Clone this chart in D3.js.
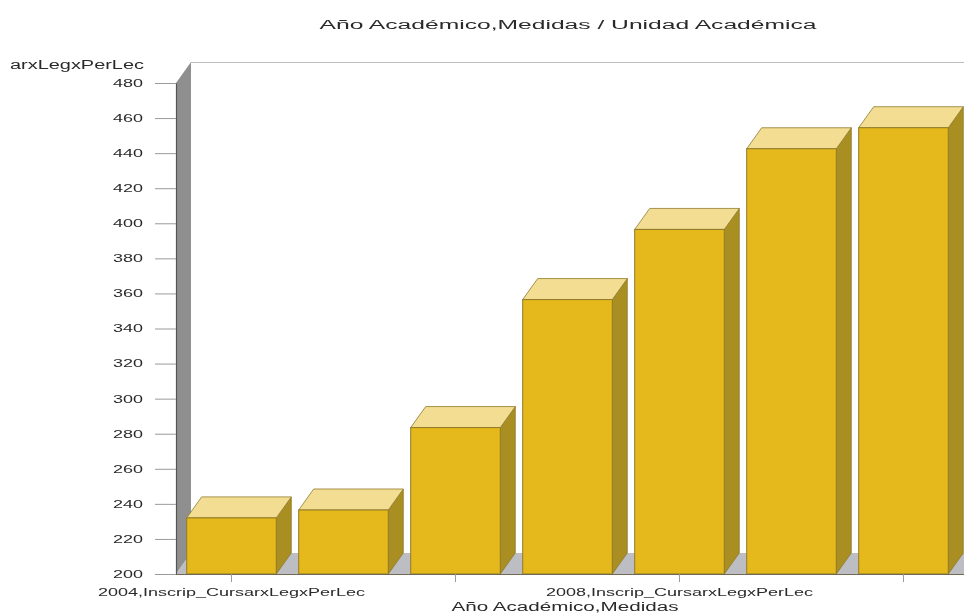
<!DOCTYPE html>
<html><head><meta charset="utf-8">
<script src="https://cdn.jsdelivr.net/npm/d3@7"></script>
<style>
html,body{margin:0;background:#fff;overflow:hidden}
svg{filter:blur(0.35px)}
text{font-family:"Liberation Sans",Arial,sans-serif;fill:#2a2a2a}
</style></head><body><svg id="c" width="964" height="613"></svg>
<script>
const categories=["2004,Inscrip_CursarxLegxPerLec","2005,Inscrip_CursarxLegxPerLec","2006,Inscrip_CursarxLegxPerLec","2007,Inscrip_CursarxLegxPerLec","2008,Inscrip_CursarxLegxPerLec","2009,Inscrip_CursarxLegxPerLec","2010,Inscrip_CursarxLegxPerLec"];
const values=[232,236.5,283.5,356.5,396.5,442.5,454.5];
const yTicks=[200,220,240,260,280,300,320,340,360,380,400,420,440,460,480];
const xTickCats=[categories[0],categories[2],categories[4],categories[6]];
const xLabelCats=[categories[0],categories[4]];
const chartTitle="Año Académico,Medidas / Unidad Académica";
const xTitle="Año Académico,Medidas";
const yTitle="arxLegxPerLec";

const W=964,dx=15,dy=21,pLeft=176,pRight=960,pBottom=574,pTop=83;
const svg=d3.select("#c");
const y=d3.scaleLinear().domain([200,480]).range([pBottom,pTop]);
const x=d3.scaleBand().domain(categories).range([pLeft-.5,pRight-.5]).paddingInner(.2).paddingOuter(.1);
const poly=p=>p.map(a=>a.join(",")).join(" ");

// walls
svg.append("polygon").attr("points",poly([[pLeft,pTop],[pLeft+dx,pTop-dy],[pLeft+dx,pBottom-dy],[pLeft,pBottom]])).attr("fill","#8f8f8f");
svg.append("polygon").attr("points",poly([[pLeft,pBottom],[pLeft+dx,pBottom-dy],[W,pBottom-dy],[W,pBottom]])).attr("fill","#bdbdc4");
svg.append("line").attr("x1",pLeft+dx).attr("x2",W).attr("y1",pTop-dy+.5).attr("y2",pTop-dy+.5).attr("stroke","#bdbdbd").attr("stroke-width",1.2);

// bars
const g=svg.append("g").selectAll("g").data(categories.map((c,i)=>({c,v:values[i]}))).join("g");
const stroke="#8f7b2c";
g.append("polygon").attr("fill","#a98e22").attr("stroke",stroke).attr("stroke-width",.8)
 .attr("points",d=>{const r=x(d.c)+x.bandwidth(),t=y(d.v);return poly([[r,t],[r+dx,t-dy],[r+dx,pBottom-dy],[r,pBottom]]);});
g.append("polygon").attr("fill","#f3dd92").attr("stroke",stroke).attr("stroke-width",.8)
 .attr("points",d=>{const l=x(d.c),r=l+x.bandwidth(),t=y(d.v);return poly([[l,t],[l+dx,t-dy],[r+dx,t-dy],[r,t]]);});
g.append("rect").attr("fill","#e5b81b").attr("stroke",stroke).attr("stroke-width",1)
 .attr("x",d=>x(d.c)).attr("y",d=>y(d.v)).attr("width",x.bandwidth()).attr("height",d=>pBottom-y(d.v));

// y axis
const ya=svg.append("g").attr("transform",`translate(${pLeft},0)`)
 .call(d3.axisLeft(y).tickValues(yTicks).tickSize(21).tickPadding(12).tickSizeOuter(0));
ya.select(".domain").attr("stroke","#555").attr("stroke-width",1.2);
ya.selectAll(".tick line").attr("stroke","#9a9a9a");
ya.selectAll("text").attr("font-size",10.5).attr("textLength",30).attr("lengthAdjust","spacingAndGlyphs");

// x axis
svg.append("line").attr("x1",pLeft).attr("x2",W).attr("y1",pBottom+.5).attr("y2",pBottom+.5).attr("stroke","#6f6a50").attr("stroke-width",1.2);
const xa=svg.append("g").attr("transform",`translate(0,${pBottom})`)
 .call(d3.axisBottom(x).tickValues(xTickCats).tickSize(8).tickPadding(7).tickSizeOuter(0)
 .tickFormat(d=>xLabelCats.includes(d)?d:""));
xa.select(".domain").remove();
xa.selectAll(".tick line").attr("stroke","#9a9a9a");
xa.selectAll("text").filter(d=>xLabelCats.includes(d)).attr("font-size",10).attr("textLength",267).attr("lengthAdjust","spacingAndGlyphs");

// titles
const label=(px,py,size,len,anchor,str)=>svg.append("text").attr("x",px).attr("y",py).attr("text-anchor",anchor)
 .attr("font-size",size).attr("textLength",len).attr("lengthAdjust","spacingAndGlyphs").text(str);
label(568,29,12,497,"middle",chartTitle);
label(565,611,12.5,227,"middle",xTitle);
label(144,69,12,134,"end",yTitle);
</script></body></html>
